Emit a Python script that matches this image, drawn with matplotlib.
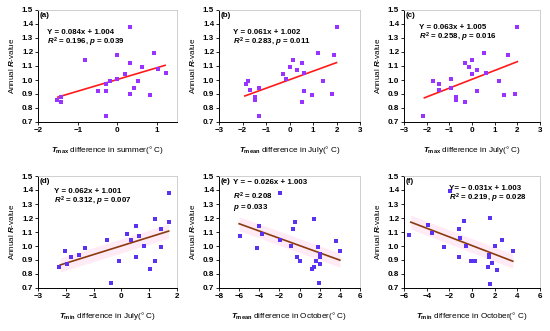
import numpy as np
import matplotlib
matplotlib.use("Agg")
import matplotlib.pyplot as plt

plt.rcParams["font.family"] = "Liberation Sans"
plt.rcParams["font.weight"] = "bold"
plt.rcParams["mathtext.fontset"] = "custom"
plt.rcParams["mathtext.rm"] = "Liberation Sans:bold"
plt.rcParams["mathtext.it"] = "Liberation Sans:italic:bold"
plt.rcParams["mathtext.bf"] = "Liberation Sans:bold"

# panel data
a_x = [-1.51, -1.42, -1.42, -0.81, -0.50, -0.30, -0.30, -0.30, -0.19, 0.0, 0.0,
       0.31, 0.31, 0.31, 0.20, 0.42, 0.52, 0.62, 0.82, 0.92, 1.03, 1.23]
a_y = [0.854, 0.878, 0.842, 1.144, 0.925, 0.968, 0.925, 0.740, 0.992, 1.177, 1.004,
       1.381, 1.125, 0.897, 1.040, 0.940, 0.996, 1.090, 0.894, 1.196, 1.077, 1.049]

b_x = [-1.87, -1.76, -1.66, -1.46, -1.46, -1.28, -1.28, -0.26, -0.17, 0.03, 0.13,
       0.33, 0.52, 0.60, 0.62, 0.52, 0.94, 1.22, 1.42, 1.82, 1.91, 2.01]
b_y = [0.968, 0.994, 0.930, 0.878, 0.854, 0.940, 0.740, 1.044, 1.004, 1.090, 1.144,
       1.072, 1.125, 1.049, 0.925, 0.840, 0.894, 1.196, 0.996, 0.897, 1.177, 1.381]

c_x = [-2.15, -1.74, -1.44, -1.44, -0.91, -0.91, -0.71, -0.71, -0.31, -0.31, -0.12,
       0.0, 0.0, 0.21, 0.21, 0.51, 0.60, 1.19, 1.39, 1.59, 1.90, 2.0]
c_y = [0.740, 0.994, 0.968, 0.930, 1.004, 0.940, 0.878, 0.860, 1.125, 0.840, 1.090,
       1.144, 1.044, 1.072, 0.925, 1.196, 1.049, 0.996, 0.894, 1.177, 0.897, 1.381]

d_x = [-2.24, -2.02, -1.94, -1.82, -1.51, -1.31, -0.52, -0.38, -0.10, 0.21, 0.33,
       0.51, 0.51, 0.62, 0.81, 1.03, 1.22, 1.22, 1.43, 1.43, 1.73, 1.73]
d_y = [0.849, 0.961, 0.875, 0.923, 0.937, 0.989, 1.042, 0.735, 0.890, 1.084, 1.046,
       1.141, 0.918, 1.070, 1.000, 0.833, 1.194, 0.890, 1.122, 0.995, 1.175, 1.377]

e_x = [-5.96, -4.2, -4.0, -3.7, -1.99, -1.92, -0.83, -0.63, -0.43, -0.26, 0.0,
       1.26, 1.39, 1.46, 1.66, 1.85, 2.05, 2.05, 2.05, 1.92, 3.64, 3.97]
e_y = [1.070, 0.989, 1.141, 1.084, 1.377, 1.042, 1.000, 1.120, 1.170, 0.923, 0.890,
       0.833, 0.852, 1.194, 0.894, 0.995, 0.942, 0.918, 0.875, 0.735, 1.038, 0.961]

f_x = [-5.59, -3.91, -3.5, -2.47, -1.97, -1.15, -1.09, -1.12, -0.74, -0.53, -0.06,
       0.28, 1.43, 1.62, 1.48, 1.48, 1.62, 1.77, 2.0, 2.2, 2.68, 3.6]
f_y = [1.076, 1.149, 1.090, 0.993, 1.390, 1.124, 1.056, 0.924, 1.178, 1.002, 0.890,
       0.893, 0.851, 1.202, 0.939, 0.920, 0.732, 0.876, 0.998, 0.832, 1.041, 0.961]

slopes = [0.084, 0.061, 0.063, 0.062, -0.026, -0.031]
intercepts = [1.004, 1.002, 1.005, 1.001, 1.003, 1.003]
fit_ranges = [(-1.5, 1.2), (-1.9, 2.0), (-2.1, 2.0), (-2.2, 1.7), (-6.0, 4.0), (-5.4, 3.6)]

panel_tags = ["(a)", "(b)", "(c)", "(d)", "(e)", "(f)"]
eq_text = [
    ["Y = 0.084x + 1.004", "$R^2$ = 0.196, $p$ = 0.039"],
    ["Y = 0.061x + 1.002", "$R^2$ = 0.283, $p$ = 0.011"],
    ["Y = 0.063x + 1.005", "$R^2$ = 0.258, $p$ = 0.016"],
    ["Y = 0.062x + 1.001", "$R^2$ = 0.312, $p$ = 0.007"],
    ["Y = \u2212 0.026x + 1.003", "$R^2$ = 0.208", "$p$ = 0.033"],
    ["Y= \u2212 0.031x + 1.003", "$R^2$ = 0.219, $p$ = 0.028"],
]
# x and line centres (axes fraction) for each panel's equation block
eq_x = [0.065, 0.10, 0.11, 0.115, 0.10, 0.33]
eq_y = [[0.80, 0.715], [0.80, 0.715], [0.84, 0.755], [0.86, 0.775],
        [0.94, 0.82, 0.72], [0.89, 0.80]]
xlabels = [
    r"$T_{\mathrm{max}}$ difference in summer(° C)",
    r"$T_{\mathrm{mean}}$ difference in July(° C)",
    r"$T_{\mathrm{max}}$ difference in July(° C)",
    r"$T_{\mathrm{min}}$ difference in July(° C)",
    r"$T_{\mathrm{mean}}$ difference in October(° C)",
    r"$T_{\mathrm{min}}$ difference in October(° C)",
]
xlims = [(-2, 1.5), (-3, 3), (-3, 3), (-3, 2), (-8, 6), (-6, 6)]
xticks = [[-2, -1, 0, 1], [-3, -2, -1, 0, 1, 2, 3], [-3, -2, -1, 0, 1, 2, 3],
          [-3, -2, -1, 0, 1, 2], [-8, -6, -4, -2, 0, 2, 4, 6], [-6, -4, -2, 0, 2, 4, 6]]

xs = [a_x, b_x, c_x, d_x, e_x, f_x]
ys = [a_y, b_y, c_y, d_y, e_y, f_y]

fig = plt.figure(figsize=(5.5, 3.31), dpi=100)
lefts = [38/550, 219/550, 404/550]
widths = [139/550, 141/550, 136/550]
bottoms = [1 - 122/331, 1 - 288/331]
height = 112/331

for i in range(6):
    row, col = divmod(i, 3)
    ax = fig.add_axes([lefts[col], bottoms[row], widths[col], height])
    top = row == 0
    dot_color = "#9933ff" if top else "#5a33f0"
    line_color = "#ff1a1a" if top else "#8b3a0f"

    lx = np.array(fit_ranges[i])
    ly = slopes[i] * lx + intercepts[i]
    if not top:
        ax.fill_between(lx, ly - 0.05, ly + 0.05, color="#ffebf5", lw=0, zorder=1)
    ax.plot(lx, ly, color=line_color, lw=1.2, zorder=2)
    ax.scatter(xs[i], ys[i], marker="s", s=8, color=dot_color, lw=0, zorder=3)

    ax.set_xlim(*xlims[i])
    ax.set_ylim(0.7, 1.5)
    ax.set_xticks(xticks[i])
    ax.set_yticks(np.arange(0.7, 1.51, 0.1))
    ax.set_xticklabels([str(t).replace("-", "\u2212") for t in xticks[i]])
    ax.set_yticklabels(["%.1f" % v for v in np.arange(0.7, 1.51, 0.1)])
    ax.tick_params(labelsize=5.8, length=2, width=0.6, pad=1.5)
    for s in ["top", "right"]:
        ax.spines[s].set_color("#c8c8c8")
        ax.spines[s].set_linewidth(0.6)
    for s in ["left", "bottom"]:
        ax.spines[s].set_linewidth(0.7)

    ax.set_ylabel("Annual $R$-value", fontsize=5.8, labelpad=4)
    ax.set_xlabel(xlabels[i], fontsize=5.9, labelpad=7)

    ax.text(0.01, 0.95, panel_tags[i], transform=ax.transAxes, fontsize=5.8,
            ha="left", va="center")
    for line, ly_ in zip(eq_text[i], eq_y[i]):
        ax.text(eq_x[i], ly_, line, transform=ax.transAxes, fontsize=5.7,
                ha="left", va="center")

fig.savefig("out.png", dpi=100)
